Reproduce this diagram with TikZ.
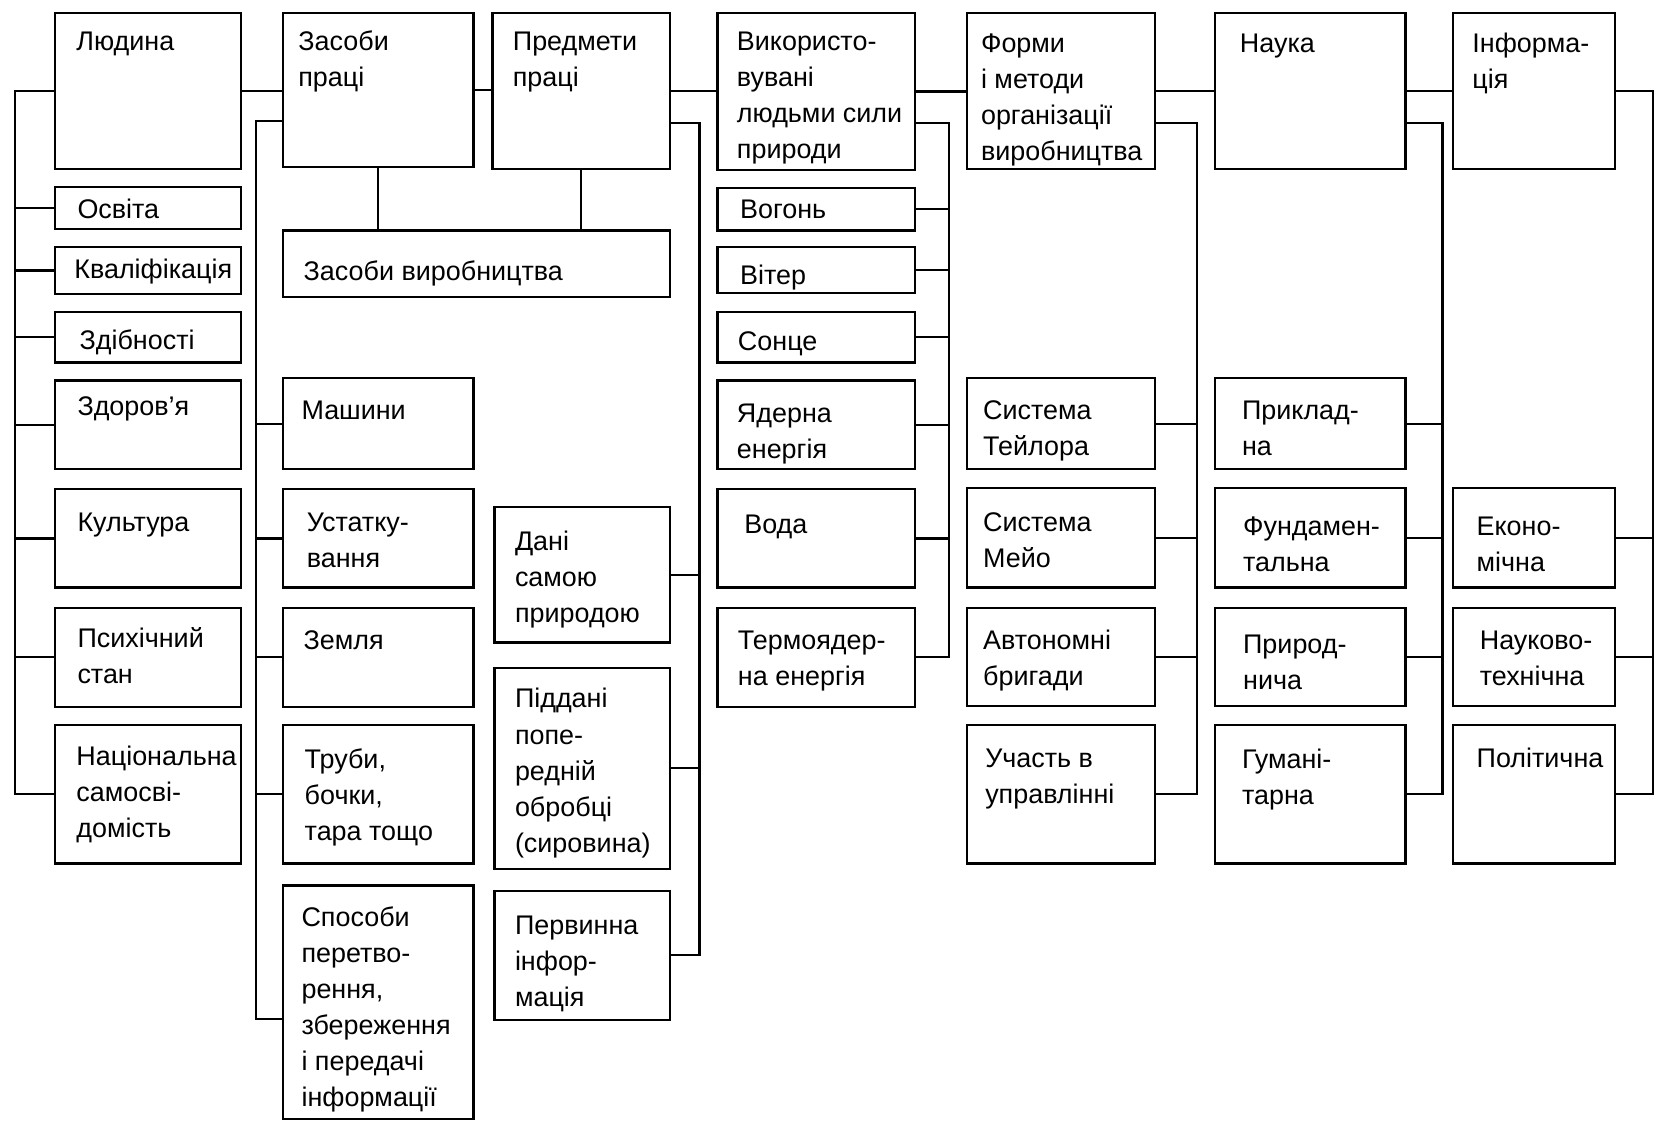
\documentclass[tikz,border=0pt]{standalone}
\usepackage{fontspec}
\setmainfont{Liberation Sans}
\usetikzlibrary{fit,calc}
\tikzset{
 boxs/.style={draw, line width=1.2pt, inner sep=0pt},
 tx/.style={anchor=north west, inner sep=0pt, align=left, font=\fontsize{14.5pt}{19.4pt}\selectfont},
 conn/.style={line width=1.2pt},
}
\newcommand\bx[8]{%
 \node[boxs, fit={(#2,#3) (#4,#5)}] (#1) {};
 \node[tx] (#1t) at (#6,#7-15) {\rule{0pt}{14pt}#8};}
\begin{document}
\begin{tikzpicture}[x=0.02cm,y=-0.02cm]
\useasboundingbox (0,0) rectangle (1568,1063);
% column 1
\bx{lud}{52}{12}{228}{160}{72}{38}{Людина}
\bx{osv}{52}{177}{228}{217}{73}{197}{Освіта}
\bx{kval}{52}{234}{228}{278}{70}{254}{Кваліфікація}
\bx{zdib}{52}{295}{228}{343}{75}{321}{Здібності}
\bx{zdor}{52}{360}{228}{444}{73}{383}{Здоров’я}
\bx{kult}{52}{463}{228}{556}{73}{493}{Культура}
\bx{psyh}{52}{575}{228}{669}{73}{603}{Психічний\\стан}
\bx{nats}{52}{686}{228}{817}{72}{714}{Національна\\самосві-\\домість}
% column 2
\bx{zp}{268}{12}{448}{158}{282}{38}{Засоби\\праці}
\bx{zv}{268}{218}{634}{281}{287}{255}{Засоби виробництва}
\bx{mash}{268}{358}{448}{444}{285}{387}{Машини}
\bx{ust}{268}{463}{448}{556}{290}{493}{Устатку-\\вання}
\bx{zeml}{268}{575}{448}{669}{287}{605}{Земля}
\bx{trub}{268}{686}{448}{817}{288}{717}{Труби,\\бочки,\\тара тощо}
\bx{sp}{268}{838}{448}{1059}{285}{867}{Способи\\перетво-\\рення,\\збереження\\і передачі\\інформації}
% column 3
\bx{pp}{466}{12}{634}{160}{485}{38}{Предмети\\праці}
\bx{dani}{468}{480}{634}{608}{487}{511}{Дані\\самою\\природою}
\bx{pidd}{468}{632}{634}{822}{487}{660}{Піддані\\попе-\\редній\\обробці\\(сировина)}
\bx{perv}{468}{843}{634}{965}{487}{874}{Первинна\\інфор-\\мація}
% column 4
\bx{vyk}{679}{12}{866}{161}{697}{38}{Використо-\\вувані\\людьми сили\\природи}
\bx{vog}{679}{178}{866}{218}{700}{197}{Вогонь}
\bx{vit}{679}{234}{866}{277}{700}{259}{Вітер}
\bx{son}{679}{295}{866}{343}{698}{322}{Сонце}
\bx{yad}{679}{360}{866}{444}{697}{390}{Ядерна\\енергія}
\bx{voda}{679}{463}{866}{556}{704}{495}{Вода}
\bx{term}{679}{575}{866}{669}{698}{605}{Термоядер-\\на енергія}
% column 5
\bx{form}{915}{12}{1093}{160}{928}{40}{Форми\\і методи\\організації\\виробництва}
\bx{teil}{915}{358}{1093}{444}{930}{387}{Система\\Тейлора}
\bx{meio}{915}{462}{1093}{556}{930}{493}{Система\\Мейо}
\bx{avt}{915}{575}{1093}{668}{930}{605}{Автономні\\бригади}
\bx{uch}{915}{686}{1093}{817}{932}{716}{Участь в\\управлінні}
% column 6
\bx{nauka}{1150}{12}{1330}{160}{1173}{40}{Наука}
\bx{prykl}{1150}{358}{1330}{444}{1175}{387}{Приклад-\\на}
\bx{fund}{1150}{462}{1330}{556}{1176}{497}{Фундамен-\\тальна}
\bx{pryr}{1150}{575}{1330}{668}{1176}{608}{Природ-\\нича}
\bx{hum}{1150}{686}{1330}{817}{1175}{717}{Гумані-\\тарна}
% column 7
\bx{inf}{1375}{12}{1528}{160}{1393}{40}{Інформа-\\ція}
\bx{ekon}{1375}{462}{1528}{556}{1397}{497}{Еконо-\\мічна}
\bx{nt}{1375}{575}{1528}{668}{1400}{605}{Науково-\\технічна}
\bx{pol}{1375}{686}{1528}{817}{1397}{716}{Політична}
% bus coordinates
\coordinate (b1) at (14,0);
\coordinate (b2) at (242,0);
\coordinate (b3) at (662,0);
\coordinate (b4) at (898,0);
\coordinate (b5) at (1133,0);
\coordinate (b6) at (1365,0);
\coordinate (b7) at (1564,0);
\coordinate (zpo) at ($(zp.north west)!0.7!(zp.south west)$);
\coordinate (spi) at ($(sp.north west)!0.57!(sp.south west)$);
\coordinate (ppo) at ($(pp.north east)!0.7!(pp.south east)$);
\coordinate (vyko) at ($(vyk.north east)!0.7!(vyk.south east)$);
\coordinate (formo) at ($(form.north east)!0.7!(form.south east)$);
\coordinate (naukao) at ($(nauka.north east)!0.7!(nauka.south east)$);
% main chain
\draw[conn] (lud.east) -- (lud.east -| zp.west);
\draw[conn] (zp.east) -- (zp.east -| pp.west);
\draw[conn] (pp.east) -- (pp.east -| vyk.west);
\draw[conn] (vyk.east) -- (vyk.east -| form.west);
\draw[conn] (form.east) -- (form.east -| nauka.west);
\draw[conn] (nauka.east) -- (nauka.east -| inf.west);
\draw[conn] (zp.south) -- (zp.south |- zv.north);
\draw[conn] (pp.south) -- (pp.south |- zv.north);
% column 1 bus
\draw[conn] (lud.west) -- (lud.west -| b1) |- (nats.west);
\foreach \c in {osv,kval,zdib,zdor,kult,psyh} \draw[conn] (\c.west) -- (\c.west -| b1);
% column 2 bus
\draw[conn] (zpo) -- (zpo -| b2) |- (spi);
\foreach \c in {mash,ust,zeml,trub} \draw[conn] (\c.west) -- (\c.west -| b2);
% column 3 bus
\draw[conn] (ppo) -- (ppo -| b3) |- (perv.east);
\foreach \c in {dani,pidd} \draw[conn] (\c.east) -- (\c.east -| b3);
% column 4 bus
\draw[conn] (vyko) -- (vyko -| b4) |- (term.east);
\foreach \c in {vog,vit,son,yad,voda} \draw[conn] (\c.east) -- (\c.east -| b4);
% column 5 bus
\draw[conn] (formo) -- (formo -| b5) |- (uch.east);
\foreach \c in {teil,meio,avt} \draw[conn] (\c.east) -- (\c.east -| b5);
% column 6 bus
\draw[conn] (naukao) -- (naukao -| b6) |- (hum.east);
\foreach \c in {prykl,fund,pryr} \draw[conn] (\c.east) -- (\c.east -| b6);
% column 7 bus
\draw[conn] (inf.east) -- (inf.east -| b7) |- (pol.east);
\foreach \c in {ekon,nt} \draw[conn] (\c.east) -- (\c.east -| b7);
\end{tikzpicture}
\end{document}
